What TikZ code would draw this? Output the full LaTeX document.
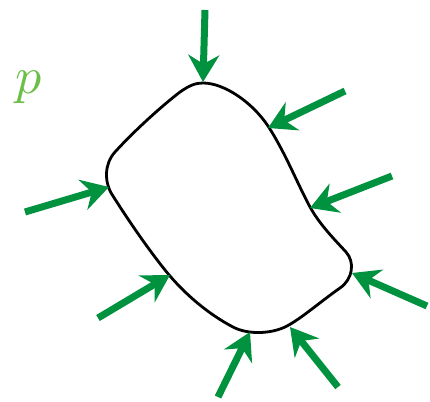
\documentclass[tikz,border=0pt]{standalone}
\usepackage{amsmath}
\usetikzlibrary{arrows.meta}
\definecolor{forcegreen}{RGB}{0,146,63}
\definecolor{labelgreen}{RGB}{108,190,72}
\begin{document}
\begin{tikzpicture}[x=1pt,y=-1pt,
  force/.style={draw=forcegreen,line width=7pt,
    -{Stealth[length=27pt,width=31pt,inset=9pt]}},
  outline/.style={draw=black,line width=2.8pt}]
\useasboundingbox (0,0) rectangle (430,401);
% the body, one closed curve
\draw[outline] (203,83)
  .. controls (224,83) and (252,102) .. (268,126)
  .. controls (285,152) and (298,185) .. (310,207)
  .. controls (320,225) and (335,240) .. (346,252)
  .. controls (355,262) and (353,279) .. (340,288)
  .. controls (320,302) and (302,318) .. (287,326)
  .. controls (272,334) and (248,335) .. (233,327)
  .. controls (210,315) and (185,295) .. (165,270)
  .. controls (145,245) and (125,215) .. (113,196)
  .. controls (104,183) and (104,164) .. (115,152)
  .. controls (135,130) and (163,105) .. (180,92)
  .. controls (190,85) and (196,83) .. (203,83) -- cycle;
% tips on the boundary and free tails of the loads
\coordinate (t1) at (203,82);  \coordinate (s1) at (205,10);
\coordinate (t2) at (268,128); \coordinate (s2) at (345,91);
\coordinate (t3) at (310,208); \coordinate (s3) at (392,176);
\coordinate (t4) at (352,273); \coordinate (s4) at (427,306);
\coordinate (t5) at (290,327); \coordinate (s5) at (338,387);
\coordinate (t6) at (250,332); \coordinate (s6) at (218,397);
\coordinate (t7) at (170,275); \coordinate (s7) at (98,318);
\coordinate (t8) at (109,187); \coordinate (s8) at (25,212);
\foreach \i in {1,...,8}
  \draw[force] (s\i) -- (t\i);
% the load label
\node[text=labelgreen,scale=5.2] (plabel) at (29,87) {$p$};
\end{tikzpicture}
\end{document}
